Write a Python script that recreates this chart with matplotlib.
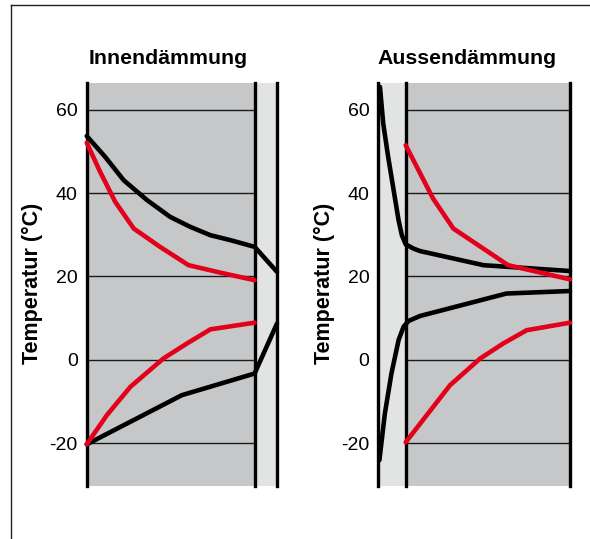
import matplotlib
matplotlib.use('Agg')
import matplotlib.pyplot as plt
from matplotlib.lines import Line2D

plt.rcParams['font.family'] = ['Liberation Sans', 'DejaVu Sans']
plt.rcParams['axes.unicode_minus'] = False

# wall positions (cm from left face of each panel)
innen_mauer = (0, 30)
innen_daemm = (30, 34)
aussen_daemm = (0, 5)
aussen_mauer = (5, 35)

yticks = [-20, 0, 20, 40, 60]

# Innendämmung
innen_schwarz_oben_x = [0, 3.3, 6.6, 10.8, 14.9, 18.5, 22.1, 25.7, 30, 34]
innen_schwarz_oben_y = [53.7, 48.7, 43.1, 38.3, 34.3, 31.9, 29.9, 28.7, 27.1, 21.1]
innen_rot_oben_x = [0, 2.4, 5.1, 8.4, 13.1, 18.2, 23.9, 30]
innen_rot_oben_y = [52.1, 45.1, 37.9, 31.5, 27.1, 22.7, 20.9, 19.1]
innen_rot_unten_x = [0, 3.6, 7.8, 13.7, 17.9, 22.1, 30]
innen_rot_unten_y = [-20.3, -13.3, -6.5, 0.3, 3.9, 7.3, 8.9]
innen_schwarz_unten_x = [0, 17.0, 30, 34]
innen_schwarz_unten_y = [-20.3, -8.5, -3.3, 8.7]

# Aussendämmung
aussen_schwarz_oben_x = [0.3, 0.9, 1.8, 2.7, 3.7, 4.3, 5.0, 6.4, 7.6, 19.2, 35]
aussen_schwarz_oben_y = [65.5, 56.7, 48.7, 41.5, 33.5, 29.9, 27.7, 26.7, 26.1, 22.7, 21.3]
aussen_rot_oben_x = [5, 10.0, 13.7, 23.7, 35]
aussen_rot_oben_y = [51.5, 38.7, 31.5, 22.7, 19.3]
aussen_schwarz_unten_x = [0.2, 1.2, 2.4, 3.7, 4.6, 5.5, 7.6, 23.4, 35]
aussen_schwarz_unten_y = [-24.1, -12.9, -3.3, 4.7, 7.9, 9.3, 10.5, 15.9, 16.5]
aussen_rot_unten_x = [5, 13.1, 18.6, 22.8, 27.1, 35]
aussen_rot_unten_y = [-19.8, -6.1, 0.3, 3.9, 7.1, 8.9]

DUNKEL = '#c6c7c9'
HELL = '#e2e3e3'
ROT = '#e2001a'

fig = plt.figure(figsize=(5.90, 5.39), dpi=100)
ax1 = fig.add_axes([86.7/590, 1-486/539, 190.3/590, 403.3/539])
ax2 = fig.add_axes([378.3/590, 1-486/539, 191.7/590, 403.3/539])


def wand(ax, mauer, daemm, lab_x):
    ax.axvspan(*mauer, color=DUNKEL, lw=0, zorder=0)
    ax.axvspan(*daemm, color=HELL, lw=0, zorder=0)
    ax.hlines(yticks, mauer[0], mauer[1], colors='#1a1a1a', lw=1.0, zorder=1)
    for x in sorted(set(mauer + daemm)):
        ax.axvline(x, color='black', lw=2.4, zorder=3, clip_on=False)
    ax.set_xlim(min(mauer[0], daemm[0]), max(mauer[1], daemm[1]))
    ax.set_ylim(-30.3, 66.5)
    ax.set_xticks([])
    ax.set_yticks(yticks)
    ax.tick_params(axis='y', length=0, pad=6.5, labelsize=14)
    for s in ax.spines.values():
        s.set_visible(False)
    ax.set_ylabel('Temperatur (°C)', fontsize=15.5, fontweight='bold')
    ax.yaxis.set_label_coords(lab_x, 0.503)


def kurve(ax, x, y, farbe):
    ax.plot(x, y, color=farbe, lw=3.3, solid_capstyle='round',
            solid_joinstyle='round', zorder=4, clip_on=False)


wand(ax1, innen_mauer, innen_daemm, -0.228)
kurve(ax1, innen_schwarz_oben_x, innen_schwarz_oben_y, 'black')
kurve(ax1, innen_schwarz_unten_x, innen_schwarz_unten_y, 'black')
kurve(ax1, innen_rot_oben_x, innen_rot_oben_y, ROT)
kurve(ax1, innen_rot_unten_x, innen_rot_unten_y, ROT)

wand(ax2, aussen_mauer, aussen_daemm, -0.226)
kurve(ax2, aussen_schwarz_oben_x, aussen_schwarz_oben_y, 'black')
kurve(ax2, aussen_schwarz_unten_x, aussen_schwarz_unten_y, 'black')
kurve(ax2, aussen_rot_oben_x, aussen_rot_oben_y, ROT)
kurve(ax2, aussen_rot_unten_x, aussen_rot_unten_y, ROT)

fig.text(168/590, 1-64/539, 'Innendämmung', ha='center', va='baseline',
         fontsize=15.3, fontweight='bold')
fig.text(467.5/590, 1-64/539, 'Aussendämmung', ha='center', va='baseline',
         fontsize=15.3, fontweight='bold')

# Rahmen oben und links
fig.add_artist(Line2D([10.5/590, 1], [1-5.3/539, 1-5.3/539],
                      transform=fig.transFigure, color='#222222', lw=1.0))
fig.add_artist(Line2D([10.5/590, 10.5/590], [0, 1-5.3/539],
                      transform=fig.transFigure, color='#222222', lw=1.0))

fig.savefig('out.png', dpi=100)
